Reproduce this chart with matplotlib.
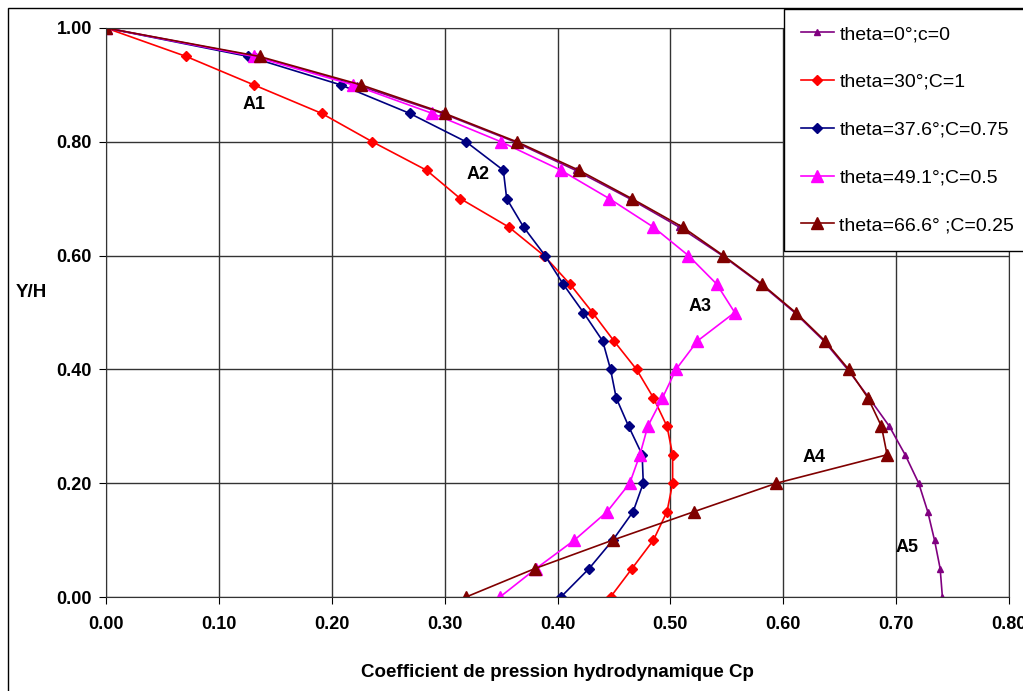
import matplotlib.pyplot as plt
from matplotlib.patches import Rectangle

plt.rcParams['font.family'] = ['Liberation Sans', 'DejaVu Sans']

# Y/H levels (surface -> base)
yh = [1.00, 0.95, 0.90, 0.85, 0.80, 0.75, 0.70, 0.65, 0.60, 0.55, 0.50,
      0.45, 0.40, 0.35, 0.30, 0.25, 0.20, 0.15, 0.10, 0.05, 0.00]

# Cp values
cp_t0 = [0.000, 0.133, 0.222, 0.298, 0.362, 0.416, 0.464, 0.508, 0.546, 0.580, 0.610,
         0.636, 0.657, 0.676, 0.694, 0.708, 0.720, 0.728, 0.734, 0.739, 0.741]
cp_t30 = [0.000, 0.071, 0.131, 0.191, 0.236, 0.284, 0.314, 0.357, 0.388, 0.411, 0.431,
          0.450, 0.470, 0.485, 0.497, 0.502, 0.502, 0.497, 0.485, 0.466, 0.447]
cp_t376 = [0.000, 0.126, 0.208, 0.269, 0.319, 0.352, 0.355, 0.370, 0.389, 0.405, 0.423,
           0.440, 0.447, 0.452, 0.463, 0.475, 0.476, 0.467, 0.449, 0.428, 0.403]
cp_t491 = [0.000, 0.131, 0.219, 0.289, 0.350, 0.403, 0.446, 0.485, 0.516, 0.541, 0.557,
           0.524, 0.505, 0.493, 0.480, 0.473, 0.464, 0.444, 0.415, 0.381, 0.349]
cp_t666 = [0.000, 0.136, 0.226, 0.300, 0.364, 0.419, 0.466, 0.511, 0.547, 0.581, 0.611,
           0.637, 0.658, 0.675, 0.687, 0.692, 0.594, 0.521, 0.449, 0.380, 0.319]

labels = ["theta=0\u00b0;c=0", "theta=30\u00b0;C=1", "theta=37.6\u00b0;C=0.75",
          "theta=49.1\u00b0;C=0.5", "theta=66.6\u00b0 ;C=0.25"]

fig = plt.figure(figsize=(10.23, 6.91), dpi=100)
ax = fig.add_axes([106 / 1023, 1 - 597 / 691, 903 / 1023, 569 / 691])

ax.plot(cp_t0, yh, color='#800080', marker='^', ms=5, lw=1.2, label=labels[0])
ax.plot(cp_t30, yh, color='#FF0000', marker='D', ms=5.5, lw=1.2, label=labels[1])
ax.plot(cp_t376, yh, color='#000080', marker='D', ms=5, lw=1.2, label=labels[2])
ax.plot(cp_t491, yh, color='#FF00FF', marker='^', ms=8, lw=1.2, label=labels[3])
ax.plot(cp_t666, yh, color='#800000', marker='^', ms=8, lw=1.2, label=labels[4])

# curve labels
for txt, x, y in [("A1", 0.131, 0.866), ("A2", 0.330, 0.743), ("A3", 0.526, 0.511),
                  ("A4", 0.627, 0.246), ("A5", 0.710, 0.087)]:
    ax.text(x, y, txt, fontsize=13, fontweight='bold', ha='center', va='center')

ax.set_xlim(0, 0.8)
ax.set_ylim(0, 1.0)
ax.set_xticks([i / 10 for i in range(9)])
ax.set_yticks([i / 5 for i in range(6)])
ax.set_xticklabels([f"{i / 10:.2f}" for i in range(9)])
ax.set_yticklabels([f"{i / 5:.2f}" for i in range(6)])
ax.tick_params(labelsize=13, length=5, color='black')
ax.tick_params(axis='x', pad=9)
ax.tick_params(axis='y', pad=5)
for lb in ax.get_xticklabels() + ax.get_yticklabels():
    lb.set_fontweight('bold')
ax.grid(True, color='#333333', lw=1)
for s in ax.spines.values():
    s.set_color('#333333')

ax.set_xlabel("Coefficient de pression hydrodynamique Cp", fontsize=13.5,
              fontweight='bold', labelpad=22)
ax.set_ylabel("Y/H", fontsize=13.5, fontweight='bold', rotation=0, labelpad=0)
ax.yaxis.set_label_coords(-0.083, 0.52)

leg = ax.legend(loc='upper left', bbox_to_anchor=(784 / 1023, 1 - 9 / 691),
                bbox_transform=fig.transFigure, fontsize=14, frameon=True,
                fancybox=False, edgecolor='black', framealpha=1,
                labelspacing=1.55, handlelength=1.7, handletextpad=0.3,
                borderpad=0.85, borderaxespad=0)
leg.get_frame().set_linewidth(1)
leg.set_zorder(10)

# outer chart border
fig.patches.append(Rectangle((8 / 1023, -0.05), 1.1, 1 - 8 / 691 + 0.05,
                             transform=fig.transFigure, fill=False,
                             edgecolor='black', lw=1))

fig.savefig("out.png", dpi=100)
